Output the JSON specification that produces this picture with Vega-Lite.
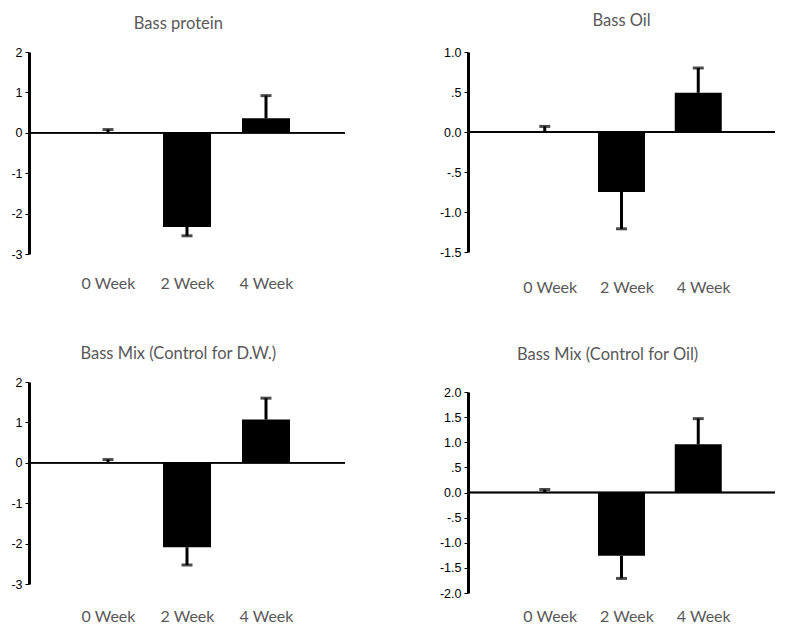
{
  "$schema": "https://vega.github.io/schema/vega-lite/v6.json",
  "background": "white",
  "padding": {"left": 10, "top": 12, "right": 0, "bottom": 0},
  "datasets": {
    "bars": [
      {"panel": "Bass protein", "week": "0 Week", "mean": 0, "tip": 0.08},
      {"panel": "Bass protein", "week": "2 Week", "mean": -2.33, "tip": -2.55},
      {"panel": "Bass protein", "week": "4 Week", "mean": 0.36, "tip": 0.92},
      {"panel": "Bass Oil", "week": "0 Week", "mean": 0, "tip": 0.07},
      {"panel": "Bass Oil", "week": "2 Week", "mean": -0.75, "tip": -1.21},
      {"panel": "Bass Oil", "week": "4 Week", "mean": 0.49, "tip": 0.8},
      {"panel": "Bass Mix (Control for D.W.)", "week": "0 Week", "mean": 0, "tip": 0.08},
      {"panel": "Bass Mix (Control for D.W.)", "week": "2 Week", "mean": -2.09, "tip": -2.53},
      {"panel": "Bass Mix (Control for D.W.)", "week": "4 Week", "mean": 1.07, "tip": 1.6},
      {"panel": "Bass Mix (Control for Oil)", "week": "0 Week", "mean": 0, "tip": 0.06},
      {"panel": "Bass Mix (Control for Oil)", "week": "2 Week", "mean": -1.26, "tip": -1.71},
      {"panel": "Bass Mix (Control for Oil)", "week": "4 Week", "mean": 0.96, "tip": 1.47}
    ]
  },
  "data": {"name": "bars"},
  "concat": [
    {
      "width": 316, "height": 212,
      "title": {"text": "Bass protein", "frame": "bounds", "offset": 14},
      "transform": [{"filter": "datum.panel === 'Bass protein'"}],
      "layer": [
        {"mark": {"type": "rule", "color": "black", "strokeWidth": 1.5}, "encoding": {"y": {"datum": 0, "type": "quantitative"}}},
        {
          "mark": {"type": "bar", "color": "black", "width": 48},
          "encoding": {
            "x": {"field": "week", "type": "ordinal", "scale": {"type": "point", "padding": 1, "domain": ["0 Week", "2 Week", "4 Week"]}, "axis": {"orient": "bottom", "domain": false, "ticks": false, "labelAngle": 0, "labelPadding": 11, "title": null}},
            "y": {"field": "mean", "type": "quantitative", "scale": {"domain": [-3, 2], "range": [202, 0], "nice": false, "zero": false}, "axis": {"values": [-3, -2, -1, 0, 1, 2], "tickCount": 30, "labelExpr": "replace(format(datum.value, 'd'), '\u2212', '-')", "title": null}}
          }
        },
        {"mark": {"type": "rule", "color": "black", "strokeWidth": 3}, "encoding": {"x": {"field": "week", "type": "ordinal"}, "y": {"field": "mean", "type": "quantitative"}, "y2": {"field": "tip"}}},
        {"mark": {"type": "tick", "color": "black", "orient": "horizontal", "size": 11, "thickness": 3}, "encoding": {"x": {"field": "week", "type": "ordinal"}, "y": {"field": "tip", "type": "quantitative"}}}
      ]
    },
    {
      "width": 307, "height": 212,
      "title": {"text": "Bass Oil", "frame": "bounds", "offset": 17, "dx": 14},
      "transform": [{"filter": "datum.panel === 'Bass Oil'"}],
      "layer": [
        {"mark": {"type": "rule", "color": "black", "strokeWidth": 1.5}, "encoding": {"y": {"datum": 0, "type": "quantitative"}}},
        {
          "mark": {"type": "bar", "color": "black", "width": 47},
          "encoding": {
            "x": {"field": "week", "type": "ordinal", "scale": {"type": "point", "padding": 1, "domain": ["0 Week", "2 Week", "4 Week"]}, "axis": {"orient": "bottom", "domain": false, "ticks": false, "labelAngle": 0, "labelPadding": 15, "labelOffset": 5, "title": null}},
            "y": {"field": "mean", "type": "quantitative", "scale": {"domain": [-1.5, 1], "range": [200, 0], "nice": false, "zero": false}, "axis": {"values": [-1.5, -1, -0.5, 0, 0.5, 1], "tickCount": 30, "labelExpr": "replace(datum.value != 0 && abs(datum.value) < 1 ? replace(format(datum.value, '.1f'), '0.', '.') : format(datum.value, '.1f'), '\u2212', '-')", "title": null}}
          }
        },
        {"mark": {"type": "rule", "color": "black", "strokeWidth": 3}, "encoding": {"x": {"field": "week", "type": "ordinal"}, "y": {"field": "mean", "type": "quantitative"}, "y2": {"field": "tip"}}},
        {"mark": {"type": "tick", "color": "black", "orient": "horizontal", "size": 11, "thickness": 3}, "encoding": {"x": {"field": "week", "type": "ordinal"}, "y": {"field": "tip", "type": "quantitative"}}}
      ]
    },
    {
      "width": 316, "height": 212,
      "title": {"text": "Bass Mix (Control for D.W.)", "frame": "bounds", "offset": 14},
      "transform": [{"filter": "datum.panel === 'Bass Mix (Control for D.W.)'"}],
      "layer": [
        {"mark": {"type": "rule", "color": "black", "strokeWidth": 1.5}, "encoding": {"y": {"datum": 0, "type": "quantitative"}}},
        {
          "mark": {"type": "bar", "color": "black", "width": 48},
          "encoding": {
            "x": {"field": "week", "type": "ordinal", "scale": {"type": "point", "padding": 1, "domain": ["0 Week", "2 Week", "4 Week"]}, "axis": {"orient": "bottom", "domain": false, "ticks": false, "labelAngle": 0, "labelPadding": 14, "title": null}},
            "y": {"field": "mean", "type": "quantitative", "scale": {"domain": [-3, 2], "range": [202, 0], "nice": false, "zero": false}, "axis": {"values": [-3, -2, -1, 0, 1, 2], "tickCount": 30, "labelExpr": "replace(format(datum.value, 'd'), '\u2212', '-')", "title": null}}
          }
        },
        {"mark": {"type": "rule", "color": "black", "strokeWidth": 3}, "encoding": {"x": {"field": "week", "type": "ordinal"}, "y": {"field": "mean", "type": "quantitative"}, "y2": {"field": "tip"}}},
        {"mark": {"type": "tick", "color": "black", "orient": "horizontal", "size": 11, "thickness": 3}, "encoding": {"x": {"field": "week", "type": "ordinal"}, "y": {"field": "tip", "type": "quantitative"}}}
      ]
    },
    {
      "width": 307, "height": 212,
      "title": {"text": "Bass Mix (Control for Oil)", "frame": "bounds", "offset": 19},
      "transform": [{"filter": "datum.panel === 'Bass Mix (Control for Oil)'"}],
      "layer": [
        {"mark": {"type": "rule", "color": "black", "strokeWidth": 1.5}, "encoding": {"y": {"datum": 0, "type": "quantitative"}}},
        {
          "mark": {"type": "bar", "color": "black", "width": 47},
          "encoding": {
            "x": {"field": "week", "type": "ordinal", "scale": {"type": "point", "padding": 1, "domain": ["0 Week", "2 Week", "4 Week"]}, "axis": {"orient": "bottom", "domain": false, "ticks": false, "labelAngle": 0, "labelPadding": 14, "labelOffset": 5, "title": null}},
            "y": {"field": "mean", "type": "quantitative", "scale": {"domain": [-2, 2], "range": [211, 10], "nice": false, "zero": false}, "axis": {"values": [-2, -1.5, -1, -0.5, 0, 0.5, 1, 1.5, 2], "tickCount": 30, "labelExpr": "replace(datum.value != 0 && abs(datum.value) < 1 ? replace(format(datum.value, '.1f'), '0.', '.') : format(datum.value, '.1f'), '\u2212', '-')", "title": null}}
          }
        },
        {"mark": {"type": "rule", "color": "black", "strokeWidth": 3}, "encoding": {"x": {"field": "week", "type": "ordinal"}, "y": {"field": "mean", "type": "quantitative"}, "y2": {"field": "tip"}}},
        {"mark": {"type": "tick", "color": "black", "orient": "horizontal", "size": 11, "thickness": 3}, "encoding": {"x": {"field": "week", "type": "ordinal"}, "y": {"field": "tip", "type": "quantitative"}}}
      ]
    }
  ],
  "columns": 2,
  "spacing": {"column": 123, "row": 118},
  "bounds": "flush",
  "config": {
    "view": {"stroke": null},
    "title": {"font": "Lato", "fontSize": 16.5, "fontWeight": "normal", "color": "#595959", "anchor": "middle"},
    "axisY": {"domainColor": "black", "domainWidth": 3, "tickColor": "black", "tickSize": 4, "tickWidth": 1, "labelFont": "Liberation Sans", "labelFontSize": 12.5, "labelColor": "black", "labelPadding": 3, "labelOverlap": false, "labelBound": false, "grid": false},
    "axisX": {"labelFont": "Lato", "labelFontSize": 16, "labelColor": "#595959", "grid": false}
  }
}
